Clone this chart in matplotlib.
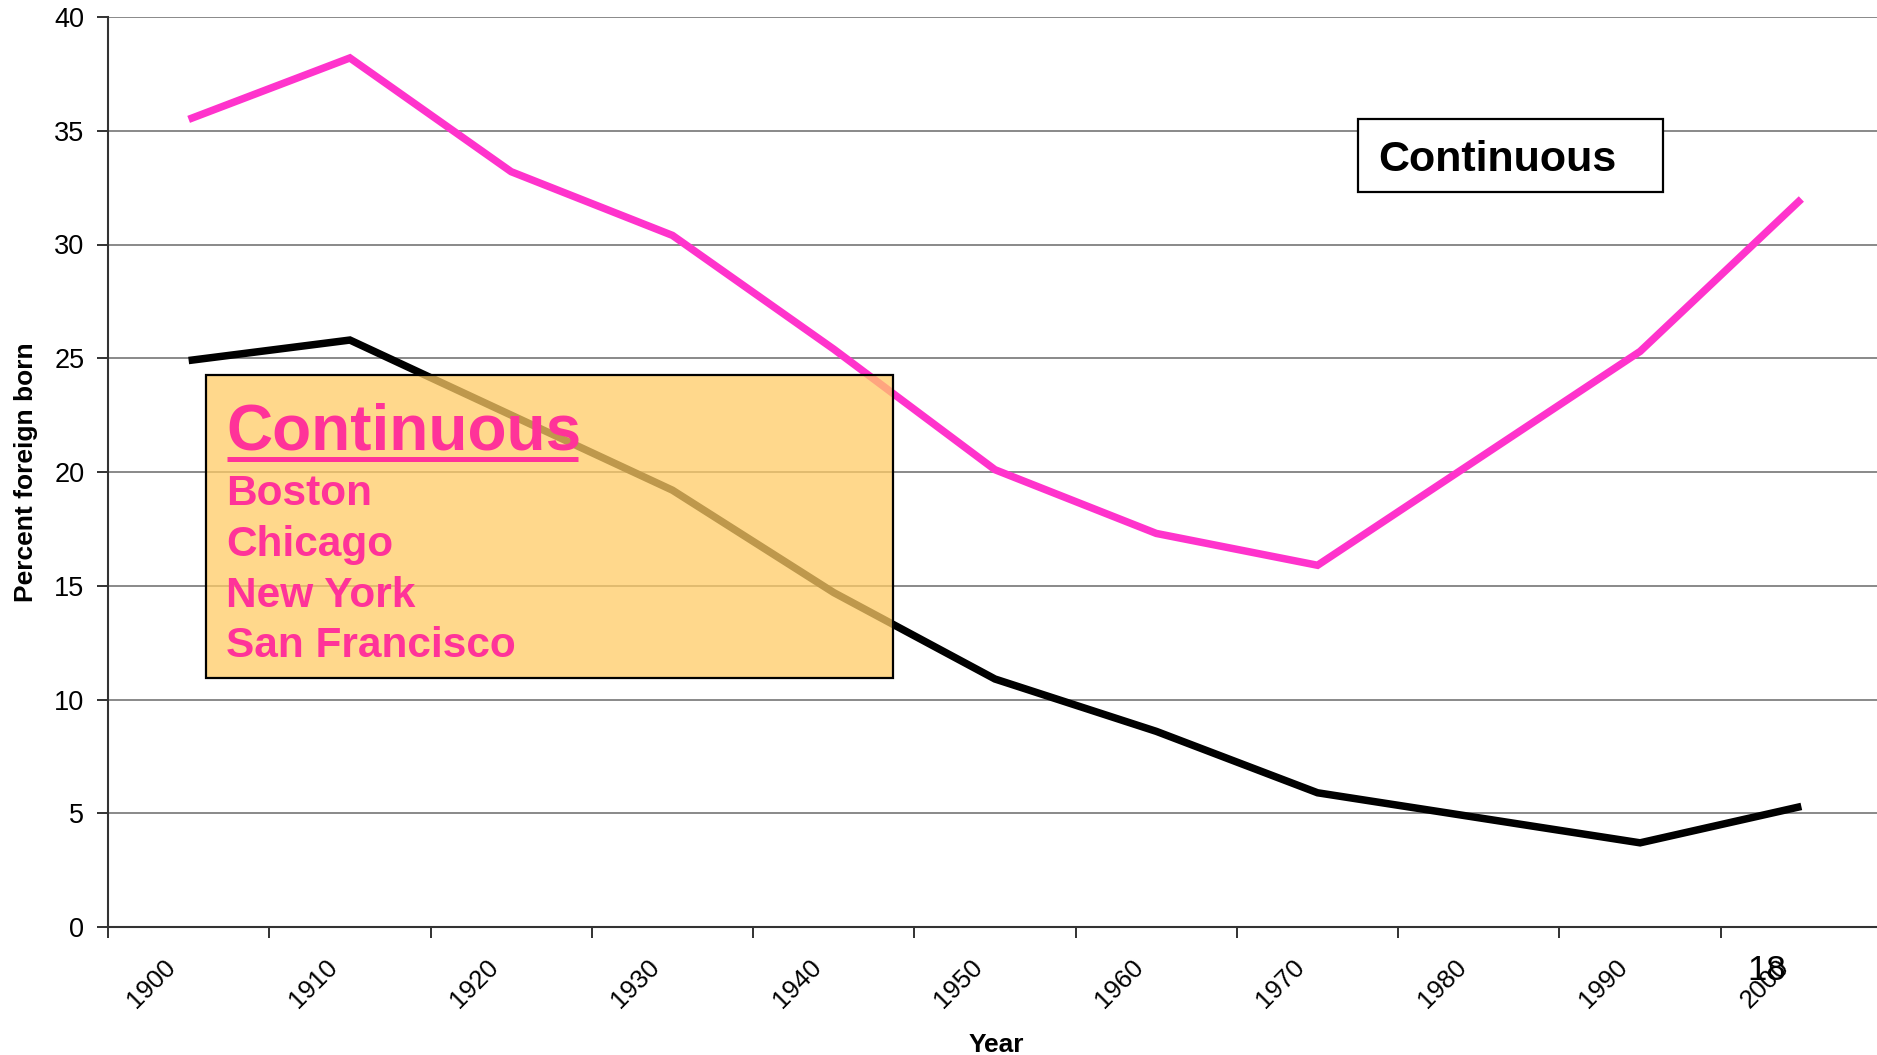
import matplotlib
matplotlib.use("Agg")
import matplotlib.pyplot as plt
from matplotlib.patches import Rectangle
from matplotlib.lines import Line2D
from matplotlib.transforms import ScaledTranslation
import numpy as np

plt.rcParams['font.family'] = ['Liberation Sans', 'DejaVu Sans']

# ---- data ----
years = ['1900', '1910', '1920', '1930', '1940', '1950', '1960', '1970', '1980', '1990', '2000']
continuous_gateways = [35.5, 38.2, 33.2, 30.4, 25.4, 20.1, 17.3, 15.9, 20.6, 25.3, 32.0]
united_states = [24.9, 25.8, 22.5, 19.2, 14.7, 10.9, 8.6, 5.9, 4.8, 3.7, 5.3]
y_ticks = [0, 5, 10, 15, 20, 25, 30, 35, 40]
legend_title = 'Continuous'
legend_cities = ['Boston', 'Chicago', 'New York', 'San Francisco']

W, H = 1877, 1055
DPI = 100
fig = plt.figure(figsize=(W / DPI, H / DPI), dpi=DPI)

def fx(px):
    return px / W

def fy(py):
    return 1 - py / H

ax_left, ax_right, ax_top, ax_bottom = 108, 1882, 17, 927
ax = fig.add_axes([fx(ax_left), fy(ax_bottom), fx(ax_right - ax_left), (ax_bottom - ax_top) / H])

x = np.arange(len(years))
PINK_LINE = '#FF33CC'
PINK_TEXT = '#FF3399'

ax.plot(x, continuous_gateways, color=PINK_LINE, lw=5.4, solid_capstyle='butt',
        solid_joinstyle='miter', zorder=3, clip_on=False)
ax.plot(x, united_states, color='black', lw=5.4, solid_capstyle='butt',
        solid_joinstyle='miter', zorder=3, clip_on=False)

ax.set_xlim(-0.5, len(years) - 0.5)
ax.set_ylim(0, 40)
ax.set_yticks(y_ticks)
ax.set_yticklabels([str(v) for v in y_ticks], fontsize=19.5)
ax.yaxis.grid(True, color='#808080', lw=1.3, zorder=1)
ax.set_axisbelow(True)

# category boundaries as major ticks, labels at centers (minor)
ax.set_xticks(np.arange(-0.5, len(years), 1.0))
ax.set_xticklabels([])
ax.set_xticks(x, minor=True)
ax.set_xticklabels(years, minor=True, rotation=45, ha='right', fontsize=18.5)
ax.tick_params(axis='x', which='major', length=8, width=1.3, direction='out', color='#222222')
ax.tick_params(axis='x', which='minor', length=0, pad=20)
ax.tick_params(axis='y', length=8, width=1.3, direction='out', pad=9, color='#222222')
off = ScaledTranslation(-8 / DPI, 0, fig.dpi_scale_trans)
for lab in ax.get_xticklabels(minor=True):
    lab.set_transform(lab.get_transform() + off)

for s in ['top', 'right']:
    ax.spines[s].set_visible(False)
for s in ['left', 'bottom']:
    ax.spines[s].set_color('#333333')
    ax.spines[s].set_linewidth(1.5)
    ax.spines[s].set_zorder(4)

# axis labels
fig.text(fx(26), fy(472), 'Percent foreign born', rotation=90, fontsize=19,
         fontweight='bold', ha='center', va='center')
fig.text(fx(996), fy(1052), 'Year', fontsize=19, fontweight='bold',
         ha='center', va='baseline')

# semi-transparent legend box
box = Rectangle((fx(206), fy(678)), fx(893 - 206), (678 - 375) / H,
                transform=fig.transFigure, facecolor=(1.0, 0.8, 0.4, 0.75),
                edgecolor='black', lw=1.6, zorder=10)
fig.patches.append(box)
fig.text(fx(226), fy(450), legend_title, fontsize=46, fontweight='bold',
         color=PINK_TEXT, ha='left', va='baseline', zorder=11)
fig.add_artist(Line2D([fx(227), fx(578)], [fy(459), fy(459)], color=PINK_TEXT,
                      lw=3.6, solid_capstyle='butt', transform=fig.transFigure, zorder=11))
baselines = [505, 556, 607, 657]
for name, b in zip(legend_cities, baselines):
    fig.text(fx(226), fy(b), name, fontsize=30.5, fontweight='bold',
             color=PINK_TEXT, ha='left', va='baseline', zorder=11)

# top-right label box
box2 = Rectangle((fx(1358), fy(192)), fx(1663 - 1358), (192 - 119) / H,
                 transform=fig.transFigure, facecolor='white',
                 edgecolor='black', lw=1.6, zorder=10)
fig.patches.append(box2)
fig.text(fx(1378), fy(171), 'Continuous', fontsize=31, fontweight='bold',
         color='black', ha='left', va='baseline', zorder=11)

# slide number
fig.text(fx(1767), fy(971), '18', fontsize=25, ha='center', va='center', zorder=11)

fig.savefig('out.png', dpi=DPI)
